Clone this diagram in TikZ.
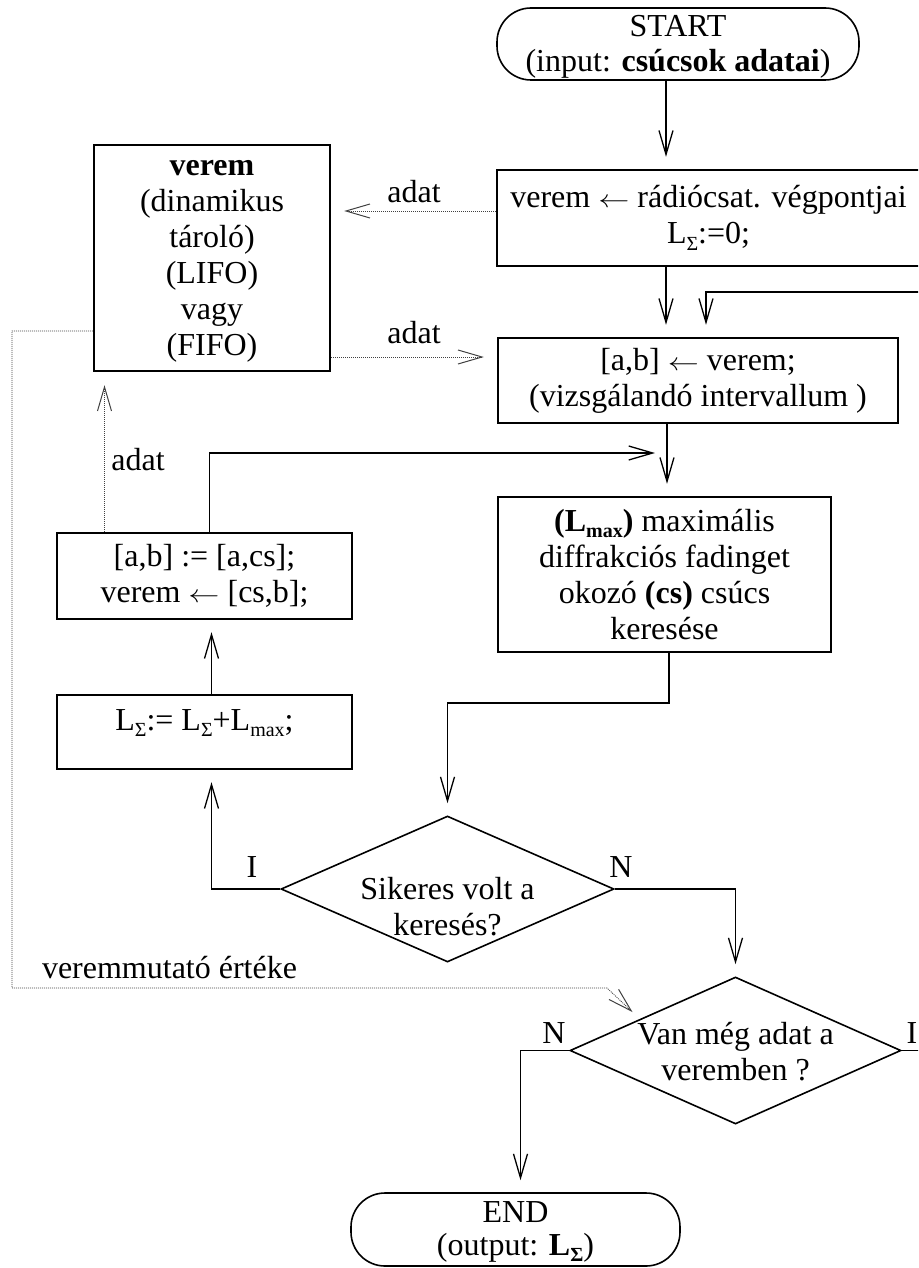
\documentclass[tikz,border=0pt]{standalone}
\usepackage{fontspec}
\usepackage{graphicx}
\setmainfont{Liberation Serif}
\usetikzlibrary{arrows.meta,shapes.geometric,calc}
\newcommand{\lsub}[1]{\raisebox{-0.2em}{\fontsize{20}{20}\selectfont #1}}
\newcommand{\bigfont}{\fontsize{32}{36}\selectfont}
\newcommand{\larr}{\scalebox{1.25}[1]{$\leftarrow$}}
\begin{document}
\begin{tikzpicture}[x=1pt, y=-1pt, font=\bigfont,
  box/.style={draw, line width=2.4pt, align=center, inner sep=0pt},
  term/.style={draw, rounded corners=34pt, line width=1.6pt, align=center, inner sep=0pt},
  dia/.style={draw, diamond, line width=1.6pt, inner sep=0pt},
  txt/.style={align=center, inner sep=0pt},
  lbl/.style={anchor=base, inner sep=0pt},
  arr/.style={line width=1.5pt, -{Straight Barb[length=24pt,width=14pt,line width=1.3pt]}, shorten >=12pt},
  darr/.style={draw=black!75, line width=0.8pt, dash pattern=on 1pt off 1pt, -{Straight Barb[length=24pt,width=14pt,line width=1pt]}, shorten >=13pt}]
\useasboundingbox (0,0) rectangle (918,1268);
\clip (0,0) rectangle (918,1268);

% nodes
\node[term, minimum width=362] (start) at (678,44) {\rule{0pt}{29pt}START\\[-1pt](input: \textbf{csúcsok adatai})\rule[-8pt]{0pt}{8pt}};
\node[box, minimum width=423, minimum height=96] (box1) at (708.5,218) {verem \larr{} rádiócsat. végpontjai\\L\lsub{Σ}:=0;};
\node[box, minimum width=400, minimum height=85] (box2) at (698,380.5) {[a,b] \larr{} verem;\\(vizsgálandó intervallum )};
\node[box, minimum width=333, minimum height=155] (box3) at (664.5,574.5) {\textbf{(L\lsub{max})} maximális\\diffrakciós fadinget\\okozó \textbf{(cs)} csúcs\\keresése};
\node[box, minimum width=236, minimum height=226] (verem) at (212,258) {\vphantom{(}\textbf{verem}\\(dinamikus\\tároló)\\(LIFO)\\vagy\\(FIFO)};
\node[box, minimum width=295, minimum height=86] (box5) at (204.5,576) {[a,b] := [a,cs];\\verem \larr{} [cs,b];};
\node[box, minimum width=295, text height=35pt, text depth=39pt] (box4) at (204.5,732) {L\lsub{Σ}:= L\lsub{Σ}+L\lsub{max};};
\node[dia, minimum width=333, minimum height=146] (d1) at (447.5,889) {};
\node[txt] (d1t) at (447.5,907) {Sikeres volt a\\keresés?};
\node[dia, minimum width=331, minimum height=147] (d2) at (735.5,1050.5) {};
\node[txt] (d2t) at (735.5,1052) {Van még adat a\\veremben ?};
\node[term, minimum width=329] (end) at (515.5,1229.5) {\rule{0pt}{29pt}END\\[-3pt](output: \textbf{L\lsub{Σ}})\rule[-11pt]{0pt}{11pt}};

% labels
\node[lbl] (a1) at (414,202) {adat};
\node[lbl] (a2) at (414,343) {adat};
\node[lbl] (a3) at (138,470) {adat};
\node[lbl] (vm) at (169.5,978) {veremmutató értéke};
\node[lbl] (i1) at (252,877) {I};
\node[lbl] (n1) at (621,877) {N};
\node[lbl] (n2) at (554,1043) {N};
\node[lbl] (i2) at (912,1043) {I};

% solid connectors
\coordinate (cA) at (666,0);
\coordinate (cB) at (667,0);
\coordinate (j1) at (669,703);
\coordinate (j2) at (667,453);
\coordinate (loop) at (950,292);
\draw[arr] (start.south -| cA) -- (box1.north -| cA);
\draw[arr] (box1.south -| cA) -- (box2.north -| cA);
\draw[arr] (box2.south -| cB) -- (box3.north -| cB);
\draw[arr] (box3.south -| j1) -- (j1) -| (d1.north);
\draw[arr] (d1.west) -| ([xshift=7pt]box4.south);
\draw[arr] ([xshift=7pt]box4.north) -- ([xshift=7pt]box5.south);
\draw[arr] ([xshift=5pt]box5.north) |- (j2);
\draw[arr] (d1.east) -| (d2.north);
\draw[arr] (d2.west) -| ([xshift=5pt]end.north);
\draw[arr] (d2.east) -| (loop) -| ([xshift=8pt]box2.north);

% dotted connectors
\coordinate (v1) at (12,988);
\coordinate (v2) at (607,988);
\coordinate (v3) at (642,1021);
\draw[darr] ([yshift=7pt]box1.west) -- ([yshift=7pt]box1.west -| verem.east);
\draw[darr] ([yshift=-99pt]verem.east) -- ([yshift=-99pt]verem.east -| box2.west);
\draw[darr] ([xshift=-100pt]box5.north) -- ([xshift=-100pt]box5.north |- verem.south);
\draw[darr] ([yshift=-73pt]verem.west) -| (v1) -- (v2) -- (v3);
\end{tikzpicture}
\end{document}
